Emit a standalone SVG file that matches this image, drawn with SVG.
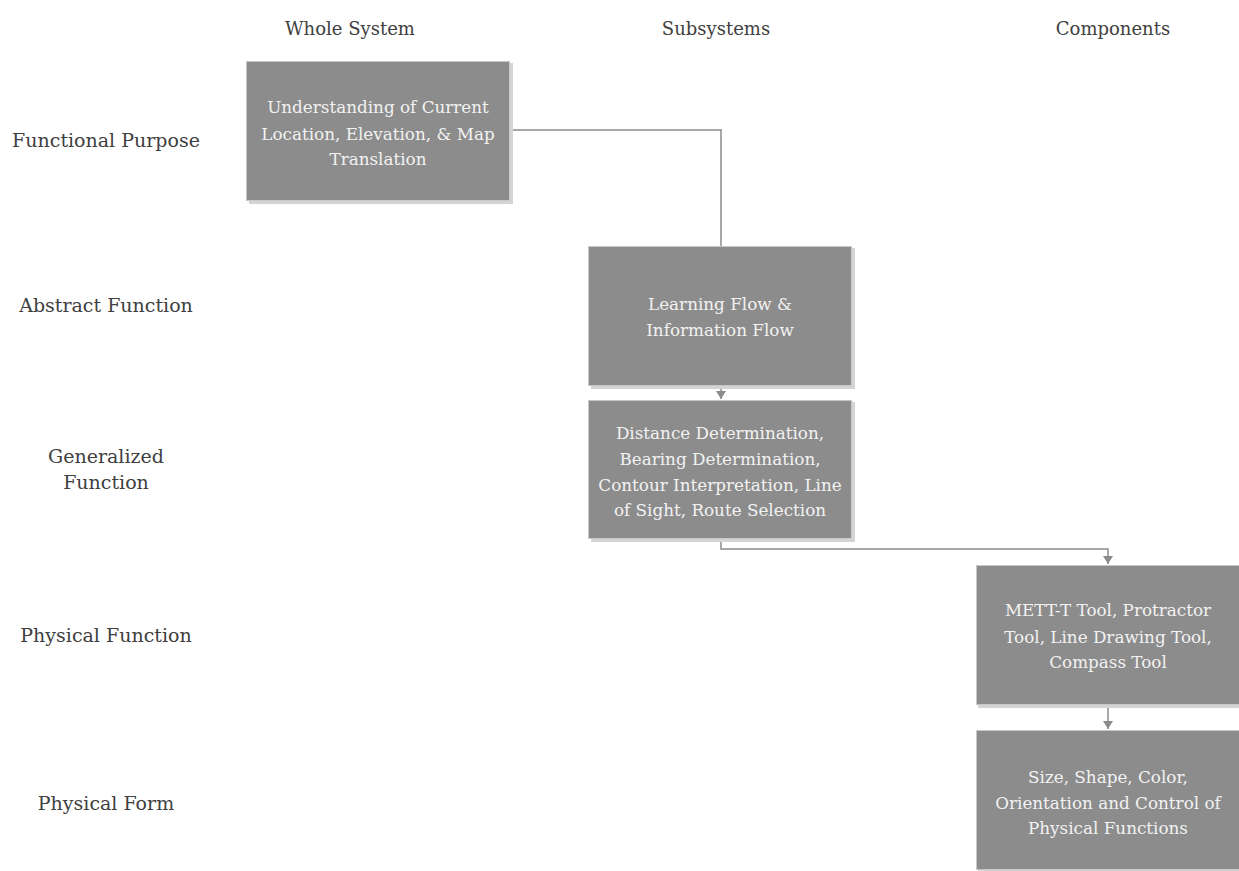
<svg xmlns="http://www.w3.org/2000/svg" width="1239" height="871" viewBox="0 0 1239 871">
<defs>
<style>
.lbl{fill:#404040}
.bt{fill:#f2f2f2}
.box{fill:#8c8c8c;stroke:#c8c8c8;stroke-width:1}
.sh{fill:#d4d4d4}
.con{fill:none;stroke:#8c8c8c;stroke-width:1.5}
</style>
</defs>
<rect width="1239" height="871" fill="#ffffff"/>
<g id="headers" font-family="DejaVu Serif, serif" font-size="18" text-anchor="middle">
<text class="lbl" x="350" y="35">Whole System</text>
<text class="lbl" x="716" y="35">Subsystems</text>
<text class="lbl" x="1113" y="35">Components</text>
</g>
<g id="rows" font-family="DejaVu Serif, serif" font-size="19" text-anchor="middle">
<text class="lbl" x="106" y="147">Functional Purpose</text>
<text class="lbl" x="106" y="312">Abstract Function</text>
<text class="lbl" x="106" y="463">Generalized</text>
<text class="lbl" x="106" y="489">Function</text>
<text class="lbl" x="106" y="642">Physical Function</text>
<text class="lbl" x="106" y="810">Physical Form</text>
</g>
<g id="connectors">
<polyline class="con" points="510,130 721,130 721,246"/>
<line class="con" x1="721" y1="386" x2="721" y2="399"/>
<path d="M716,391 L726,391 L721,399 Z" fill="#8c8c8c"/>
<polyline class="con" points="721,539 721,549 1108,549 1108,564"/>
<path d="M1103,556 L1113,556 L1108,564 Z" fill="#8c8c8c"/>
<line class="con" x1="1108" y1="705" x2="1108" y2="729"/>
<path d="M1103,721 L1113,721 L1108,729 Z" fill="#8c8c8c"/>
</g>
<g id="nodes" font-family="DejaVu Serif, serif" font-size="16.8" text-anchor="middle">
<g id="n1">
<rect class="sh" x="249" y="63" width="264" height="141"/>
<rect class="box" x="246.5" y="61.5" width="263" height="139"/>
<text class="bt" x="378" y="113">Understanding of Current</text>
<text class="bt" x="378" y="139.5">Location, Elevation, &amp; Map</text>
<text class="bt" x="378" y="165">Translation</text>
</g>
<g id="n2">
<rect class="sh" x="591" y="248" width="264" height="141"/>
<rect class="box" x="588.5" y="246.5" width="263" height="139"/>
<text class="bt" x="720" y="310">Learning Flow &amp;</text>
<text class="bt" x="720" y="336">Information Flow</text>
</g>
<g id="n3">
<rect class="sh" x="591" y="402" width="264" height="140"/>
<rect class="box" x="588.5" y="400.5" width="263" height="138"/>
<text class="bt" x="720" y="439">Distance Determination,</text>
<text class="bt" x="720" y="465">Bearing Determination,</text>
<text class="bt" x="720" y="491">Contour Interpretation, Line</text>
<text class="bt" x="720" y="516">of Sight, Route Selection</text>
</g>
<g id="n4">
<rect class="sh" x="978" y="567" width="264" height="141"/>
<rect class="box" x="976.5" y="565.5" width="263" height="139"/>
<text class="bt" x="1108" y="616">METT-T Tool, Protractor</text>
<text class="bt" x="1108" y="643">Tool, Line Drawing Tool,</text>
<text class="bt" x="1108" y="668">Compass Tool</text>
</g>
<g id="n5">
<rect class="sh" x="978" y="732" width="264" height="141"/>
<rect class="box" x="976.5" y="730.5" width="263" height="139"/>
<text class="bt" x="1108" y="783">Size, Shape, Color,</text>
<text class="bt" x="1108" y="809">Orientation and Control of</text>
<text class="bt" x="1108" y="834">Physical Functions</text>
</g>
</g>
</svg>
